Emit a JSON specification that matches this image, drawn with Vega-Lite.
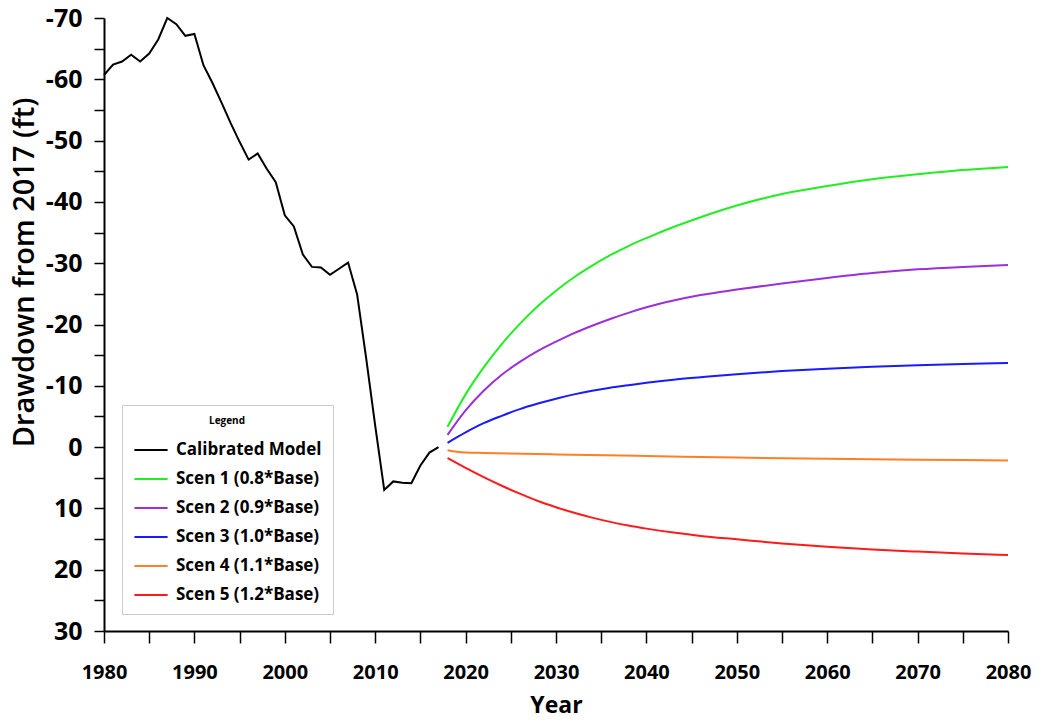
{
  "$schema": "https://vega.github.io/schema/vega-lite/v6.json",
  "autosize": "none",
  "padding": {"left": 104, "top": 18, "right": 38, "bottom": 91},
  "width": 904,
  "height": 613,
  "background": "white",
  "config": {
    "view": {"stroke": null},
    "font": "Open Sans"
  },
  "data": {
    "values": [
      {"year": 1980, "value": -60.7, "series": "Calibrated Model"},
      {"year": 1981, "value": -62.4, "series": "Calibrated Model"},
      {"year": 1982, "value": -62.9, "series": "Calibrated Model"},
      {"year": 1983, "value": -64.0, "series": "Calibrated Model"},
      {"year": 1984, "value": -62.9, "series": "Calibrated Model"},
      {"year": 1985, "value": -64.2, "series": "Calibrated Model"},
      {"year": 1986, "value": -66.5, "series": "Calibrated Model"},
      {"year": 1987, "value": -70.0, "series": "Calibrated Model"},
      {"year": 1988, "value": -69.0, "series": "Calibrated Model"},
      {"year": 1989, "value": -67.1, "series": "Calibrated Model"},
      {"year": 1990, "value": -67.4, "series": "Calibrated Model"},
      {"year": 1991, "value": -62.3, "series": "Calibrated Model"},
      {"year": 1992, "value": -59.4, "series": "Calibrated Model"},
      {"year": 1993, "value": -56.2, "series": "Calibrated Model"},
      {"year": 1994, "value": -52.9, "series": "Calibrated Model"},
      {"year": 1995, "value": -49.8, "series": "Calibrated Model"},
      {"year": 1996, "value": -46.9, "series": "Calibrated Model"},
      {"year": 1997, "value": -47.9, "series": "Calibrated Model"},
      {"year": 1998, "value": -45.4, "series": "Calibrated Model"},
      {"year": 1999, "value": -43.2, "series": "Calibrated Model"},
      {"year": 2000, "value": -37.8, "series": "Calibrated Model"},
      {"year": 2001, "value": -36.0, "series": "Calibrated Model"},
      {"year": 2002, "value": -31.4, "series": "Calibrated Model"},
      {"year": 2003, "value": -29.4, "series": "Calibrated Model"},
      {"year": 2004, "value": -29.3, "series": "Calibrated Model"},
      {"year": 2005, "value": -28.1, "series": "Calibrated Model"},
      {"year": 2006, "value": -29.1, "series": "Calibrated Model"},
      {"year": 2007, "value": -30.1, "series": "Calibrated Model"},
      {"year": 2008, "value": -24.9, "series": "Calibrated Model"},
      {"year": 2009, "value": -14.5, "series": "Calibrated Model"},
      {"year": 2010, "value": -3.5, "series": "Calibrated Model"},
      {"year": 2011, "value": 7.0, "series": "Calibrated Model"},
      {"year": 2012, "value": 5.6, "series": "Calibrated Model"},
      {"year": 2013, "value": 5.8, "series": "Calibrated Model"},
      {"year": 2014, "value": 5.9, "series": "Calibrated Model"},
      {"year": 2015, "value": 3.0, "series": "Calibrated Model"},
      {"year": 2016, "value": 0.9, "series": "Calibrated Model"},
      {"year": 2017, "value": 0.0, "series": "Calibrated Model"},

      {"year": 2018, "value": -3.3, "series": "Scen 1 (0.8*Base)"},
      {"year": 2020, "value": -8.6, "series": "Scen 1 (0.8*Base)"},
      {"year": 2022, "value": -13.0, "series": "Scen 1 (0.8*Base)"},
      {"year": 2024, "value": -16.8, "series": "Scen 1 (0.8*Base)"},
      {"year": 2026, "value": -20.1, "series": "Scen 1 (0.8*Base)"},
      {"year": 2028, "value": -23.0, "series": "Scen 1 (0.8*Base)"},
      {"year": 2030, "value": -25.5, "series": "Scen 1 (0.8*Base)"},
      {"year": 2032, "value": -27.7, "series": "Scen 1 (0.8*Base)"},
      {"year": 2034, "value": -29.6, "series": "Scen 1 (0.8*Base)"},
      {"year": 2036, "value": -31.3, "series": "Scen 1 (0.8*Base)"},
      {"year": 2038, "value": -32.8, "series": "Scen 1 (0.8*Base)"},
      {"year": 2040, "value": -34.1, "series": "Scen 1 (0.8*Base)"},
      {"year": 2043, "value": -35.9, "series": "Scen 1 (0.8*Base)"},
      {"year": 2046, "value": -37.5, "series": "Scen 1 (0.8*Base)"},
      {"year": 2050, "value": -39.4, "series": "Scen 1 (0.8*Base)"},
      {"year": 2055, "value": -41.3, "series": "Scen 1 (0.8*Base)"},
      {"year": 2060, "value": -42.6, "series": "Scen 1 (0.8*Base)"},
      {"year": 2065, "value": -43.7, "series": "Scen 1 (0.8*Base)"},
      {"year": 2070, "value": -44.5, "series": "Scen 1 (0.8*Base)"},
      {"year": 2075, "value": -45.2, "series": "Scen 1 (0.8*Base)"},
      {"year": 2080, "value": -45.7, "series": "Scen 1 (0.8*Base)"},

      {"year": 2018, "value": -2.0, "series": "Scen 2 (0.9*Base)"},
      {"year": 2020, "value": -6.0, "series": "Scen 2 (0.9*Base)"},
      {"year": 2022, "value": -9.2, "series": "Scen 2 (0.9*Base)"},
      {"year": 2024, "value": -11.8, "series": "Scen 2 (0.9*Base)"},
      {"year": 2026, "value": -13.9, "series": "Scen 2 (0.9*Base)"},
      {"year": 2028, "value": -15.7, "series": "Scen 2 (0.9*Base)"},
      {"year": 2030, "value": -17.2, "series": "Scen 2 (0.9*Base)"},
      {"year": 2032, "value": -18.6, "series": "Scen 2 (0.9*Base)"},
      {"year": 2034, "value": -19.8, "series": "Scen 2 (0.9*Base)"},
      {"year": 2036, "value": -20.9, "series": "Scen 2 (0.9*Base)"},
      {"year": 2038, "value": -21.9, "series": "Scen 2 (0.9*Base)"},
      {"year": 2040, "value": -22.8, "series": "Scen 2 (0.9*Base)"},
      {"year": 2043, "value": -23.9, "series": "Scen 2 (0.9*Base)"},
      {"year": 2046, "value": -24.8, "series": "Scen 2 (0.9*Base)"},
      {"year": 2050, "value": -25.7, "series": "Scen 2 (0.9*Base)"},
      {"year": 2055, "value": -26.7, "series": "Scen 2 (0.9*Base)"},
      {"year": 2060, "value": -27.6, "series": "Scen 2 (0.9*Base)"},
      {"year": 2065, "value": -28.4, "series": "Scen 2 (0.9*Base)"},
      {"year": 2070, "value": -29.0, "series": "Scen 2 (0.9*Base)"},
      {"year": 2075, "value": -29.4, "series": "Scen 2 (0.9*Base)"},
      {"year": 2080, "value": -29.7, "series": "Scen 2 (0.9*Base)"},

      {"year": 2018, "value": -0.7, "series": "Scen 3 (1.0*Base)"},
      {"year": 2020, "value": -2.4, "series": "Scen 3 (1.0*Base)"},
      {"year": 2022, "value": -3.9, "series": "Scen 3 (1.0*Base)"},
      {"year": 2024, "value": -5.1, "series": "Scen 3 (1.0*Base)"},
      {"year": 2026, "value": -6.2, "series": "Scen 3 (1.0*Base)"},
      {"year": 2028, "value": -7.1, "series": "Scen 3 (1.0*Base)"},
      {"year": 2030, "value": -7.9, "series": "Scen 3 (1.0*Base)"},
      {"year": 2032, "value": -8.6, "series": "Scen 3 (1.0*Base)"},
      {"year": 2034, "value": -9.2, "series": "Scen 3 (1.0*Base)"},
      {"year": 2036, "value": -9.7, "series": "Scen 3 (1.0*Base)"},
      {"year": 2038, "value": -10.1, "series": "Scen 3 (1.0*Base)"},
      {"year": 2040, "value": -10.5, "series": "Scen 3 (1.0*Base)"},
      {"year": 2043, "value": -11.0, "series": "Scen 3 (1.0*Base)"},
      {"year": 2046, "value": -11.4, "series": "Scen 3 (1.0*Base)"},
      {"year": 2050, "value": -11.9, "series": "Scen 3 (1.0*Base)"},
      {"year": 2055, "value": -12.4, "series": "Scen 3 (1.0*Base)"},
      {"year": 2060, "value": -12.8, "series": "Scen 3 (1.0*Base)"},
      {"year": 2065, "value": -13.1, "series": "Scen 3 (1.0*Base)"},
      {"year": 2070, "value": -13.35, "series": "Scen 3 (1.0*Base)"},
      {"year": 2075, "value": -13.55, "series": "Scen 3 (1.0*Base)"},
      {"year": 2080, "value": -13.7, "series": "Scen 3 (1.0*Base)"},

      {"year": 2018, "value": 0.5, "series": "Scen 4 (1.1*Base)"},
      {"year": 2019, "value": 0.75, "series": "Scen 4 (1.1*Base)"},
      {"year": 2020, "value": 0.88, "series": "Scen 4 (1.1*Base)"},
      {"year": 2022, "value": 0.95, "series": "Scen 4 (1.1*Base)"},
      {"year": 2030, "value": 1.2, "series": "Scen 4 (1.1*Base)"},
      {"year": 2040, "value": 1.45, "series": "Scen 4 (1.1*Base)"},
      {"year": 2050, "value": 1.7, "series": "Scen 4 (1.1*Base)"},
      {"year": 2060, "value": 1.9, "series": "Scen 4 (1.1*Base)"},
      {"year": 2070, "value": 2.05, "series": "Scen 4 (1.1*Base)"},
      {"year": 2080, "value": 2.2, "series": "Scen 4 (1.1*Base)"},

      {"year": 2018, "value": 1.8, "series": "Scen 5 (1.2*Base)"},
      {"year": 2020, "value": 3.4, "series": "Scen 5 (1.2*Base)"},
      {"year": 2022, "value": 4.9, "series": "Scen 5 (1.2*Base)"},
      {"year": 2024, "value": 6.3, "series": "Scen 5 (1.2*Base)"},
      {"year": 2026, "value": 7.6, "series": "Scen 5 (1.2*Base)"},
      {"year": 2028, "value": 8.8, "series": "Scen 5 (1.2*Base)"},
      {"year": 2030, "value": 9.8, "series": "Scen 5 (1.2*Base)"},
      {"year": 2032, "value": 10.7, "series": "Scen 5 (1.2*Base)"},
      {"year": 2034, "value": 11.5, "series": "Scen 5 (1.2*Base)"},
      {"year": 2036, "value": 12.2, "series": "Scen 5 (1.2*Base)"},
      {"year": 2038, "value": 12.8, "series": "Scen 5 (1.2*Base)"},
      {"year": 2040, "value": 13.3, "series": "Scen 5 (1.2*Base)"},
      {"year": 2043, "value": 13.95, "series": "Scen 5 (1.2*Base)"},
      {"year": 2046, "value": 14.5, "series": "Scen 5 (1.2*Base)"},
      {"year": 2050, "value": 15.05, "series": "Scen 5 (1.2*Base)"},
      {"year": 2055, "value": 15.72, "series": "Scen 5 (1.2*Base)"},
      {"year": 2060, "value": 16.25, "series": "Scen 5 (1.2*Base)"},
      {"year": 2065, "value": 16.7, "series": "Scen 5 (1.2*Base)"},
      {"year": 2070, "value": 17.05, "series": "Scen 5 (1.2*Base)"},
      {"year": 2075, "value": 17.35, "series": "Scen 5 (1.2*Base)"},
      {"year": 2080, "value": 17.6, "series": "Scen 5 (1.2*Base)"}
    ]
  },
  "encoding": {
    "x": {
      "field": "year",
      "type": "quantitative",
      "scale": {"domain": [1980, 2080], "nice": false, "zero": false},
      "axis": {
        "title": "Year",
        "titleFontSize": 23,
        "titleFontWeight": "bold",
        "titleColor": "black",
        "titlePadding": 12,
        "values": [1980, 1985, 1990, 1995, 2000, 2005, 2010, 2015, 2020, 2025, 2030, 2035, 2040, 2045, 2050, 2055, 2060, 2065, 2070, 2075, 2080],
        "labelExpr": "datum.value % 10 === 0 ? '' + datum.value : ''",
        "labelFontSize": 20,
        "labelFontWeight": "bold",
        "labelColor": "black",
        "labelPadding": 19,
        "labelOverlap": false,
        "labelFlush": false,
        "tickSize": 12,
        "tickColor": "black",
        "tickWidth": 1.5,
        "domainColor": "black",
        "domainWidth": 2,
        "grid": false,
        "encode": {"ticks": {"update": {"y2": {"signal": "datum.value % 10 === 0 ? 12 : 7"}}}}
      }
    },
    "y": {
      "field": "value",
      "type": "quantitative",
      "scale": {"domain": [-70, 30], "reverse": true, "nice": false, "zero": false},
      "axis": {
        "title": "Drawdown from 2017 (ft)",
        "titleFontSize": 29,
        "titleFontWeight": "600",
        "titleColor": "black",
        "titleX": -65,
        "titleY": 254,
        "values": [-70, -65, -60, -55, -50, -45, -40, -35, -30, -25, -20, -15, -10, -5, 0, 5, 10, 15, 20, 25, 30],
        "labelExpr": "datum.value % 10 === 0 ? '' + datum.value : ''",
        "labelFontSize": 25,
        "labelFontWeight": "bold",
        "labelColor": "black",
        "labelPadding": 12,
        "labelOverlap": false,
        "labelFlush": false,
        "tickSize": 10,
        "tickColor": "black",
        "tickWidth": 1.5,
        "domainColor": "black",
        "domainWidth": 2,
        "grid": false,
        "encode": {"ticks": {"update": {"x2": {"signal": "datum.value % 10 === 0 ? -10 : -6"}}}}
      }
    },
    "color": {
      "field": "series",
      "type": "nominal",
      "scale": {
        "domain": ["Calibrated Model", "Scen 1 (0.8*Base)", "Scen 2 (0.9*Base)", "Scen 3 (1.0*Base)", "Scen 4 (1.1*Base)", "Scen 5 (1.2*Base)"],
        "range": ["#000000", "#22ee22", "#9b30d9", "#1a1aff", "#ff7f27", "#ff1a1a"]
      },
      "legend": {
        "title": "Legend",
        "orient": "none",
        "legendX": 18,
        "legendY": 387,
        "padding": 11,
        "strokeColor": "#cccccc",
        "fillColor": "white",
        "titleFontSize": 10,
        "titleFontWeight": "bold",
        "titleColor": "black",
        "titleAnchor": "middle",
        "titlePadding": 6,
        "labelFontSize": 17,
        "labelFontWeight": "bold",
        "labelColor": "black",
        "labelLimit": 300,
        "symbolType": "stroke",
        "symbolSize": 1100,
        "symbolStrokeWidth": 2,
        "rowPadding": 3,
        "labelOffset": 7
      }
    }
  },
  "layer": [
    {
      "transform": [{"filter": "datum.series === 'Calibrated Model'"}],
      "mark": {"type": "line", "strokeWidth": 2, "interpolate": "linear"}
    },
    {
      "transform": [{"filter": "datum.series !== 'Calibrated Model'"}],
      "mark": {"type": "line", "strokeWidth": 2, "interpolate": "monotone"}
    }
  ]
}
